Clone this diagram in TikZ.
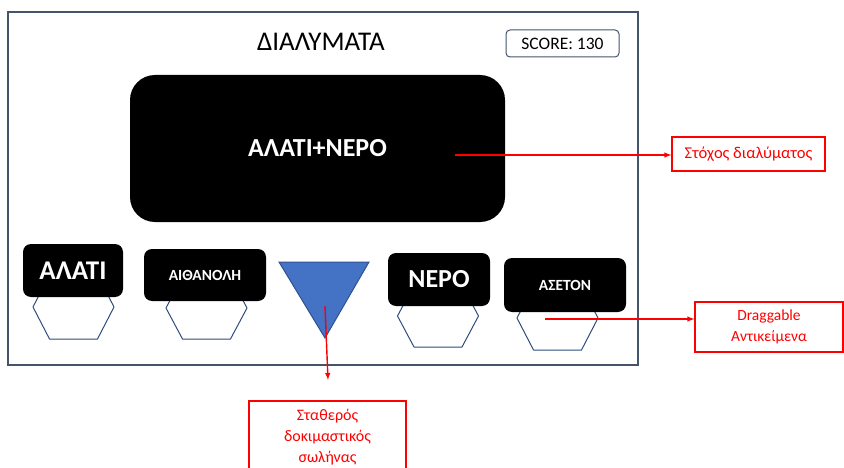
\documentclass[tikz,border=0pt]{standalone}
\usepackage{fontspec}
\setmainfont{Carlito}
\usetikzlibrary{positioning, arrows, shapes.geometric}
\definecolor{frameblue}{HTML}{44546A}
\definecolor{hexblue}{HTML}{2F4B7C}
\definecolor{tubeblue}{HTML}{4472C4}
\definecolor{tubeedge}{HTML}{2F528F}

\begin{document}
\begin{tikzpicture}[x=1pt, y=-1pt,
    blackbox/.style={fill=black, rounded corners=8pt, text=white, inner sep=0pt},
    hexa/.style={draw=hexblue, line width=1pt, line join=round},
    note/.style={draw=red, line width=1.2pt, text=red, align=center, inner sep=0pt},
    pointer/.style={red, line width=1.4pt, -latex}]
    \useasboundingbox (0,0) rectangle (844,468);
    % screen
    \draw[frameblue, line width=1.2pt] (8,12) rectangle (638,365);
    \node [font=\fontsize{27}{30}\selectfont] (title) at (321,42) {ΔΙΑΛΥΜΑΤΑ};
    \node [draw=frameblue, rounded corners=4pt, line width=1pt, inner sep=0pt,
        minimum width=113pt, minimum height=27pt, font=\fontsize{17.5}{20}\selectfont]
        (score) at (562.5,43.5) {SCORE: 130};
    \node [blackbox, rounded corners=25pt, minimum width=375pt, minimum height=147pt,
        font=\bfseries\fontsize{26}{30}\selectfont] (target) at (317.5,148.5) {ΑΛΑΤΙ+ΝΕΡΟ};
    
    % holders
    \foreach \cx/\cy/\h in {73.5/307/32, 206.5/308/31, 438/316/31, 557.5/318/32} {
        \draw[hexa] (\cx-40.5,\cy) -- (\cx-24,\cy-\h) -- (\cx+24,\cy-\h)
            -- (\cx+40.5,\cy) -- (\cx+24,\cy+\h) -- (\cx-24,\cy+\h) -- cycle;
    }
    
    % objects
    \node [blackbox, minimum width=100pt, minimum height=53pt,
        font=\bfseries\fontsize{27}{30}\selectfont] (salt) at (73,270.5) {ΑΛΑΤΙ};
    \node [blackbox, minimum width=122pt, minimum height=52pt,
        font=\bfseries\fontsize{15.5}{18}\selectfont] (ethanol) at (205,275) {ΑΙΘΑΝΟΛΗ};
    \node [blackbox, minimum width=102pt, minimum height=53pt,
        font=\bfseries\fontsize{26}{30}\selectfont] (water) at (439,279.5) {ΝΕΡΟ};
    \node [blackbox, minimum width=122pt, minimum height=54pt,
        font=\bfseries\fontsize{15.5}{18}\selectfont] (acetone) at (565,285) {ΑΣΕΤΟΝ};
    
    % tube
    \draw[fill=tubeblue, draw=tubeedge, line width=1pt] (279,262) -- (369,262) -- (325,338) -- cycle;
    
    % notes
    \node [note, minimum width=153pt, minimum height=34pt,
        font=\fontsize{16.5}{20}\selectfont] (target_lbl) at (748.5,154) {Στόχος διαλύματος};
    \node [note, minimum width=148pt, minimum height=50pt,
        font=\fontsize{15.5}{21}\selectfont] (drag_lbl) at (769,327) {Draggable\\Αντικείμενα};
    \node [note, minimum width=157pt, minimum height=72pt,
        font=\fontsize{16}{21}\selectfont] (tube_lbl) at (327.5,437) {Σταθερός\\δοκιμαστικός\\σωλήνας};
    
    \coordinate (target_src) at (455,155);
    \coordinate (drag_src) at (545,319);
    \coordinate (tube_src) at (325,306);
    \coordinate (tube_end) at (328,380);
    \draw[pointer] (target_src) -- (target_src -| target_lbl.west);
    \draw[pointer] (drag_src) -- (drag_src -| drag_lbl.west);
    \draw[pointer] (tube_src) -- (tube_end);
\end{tikzpicture}
\end{document}
